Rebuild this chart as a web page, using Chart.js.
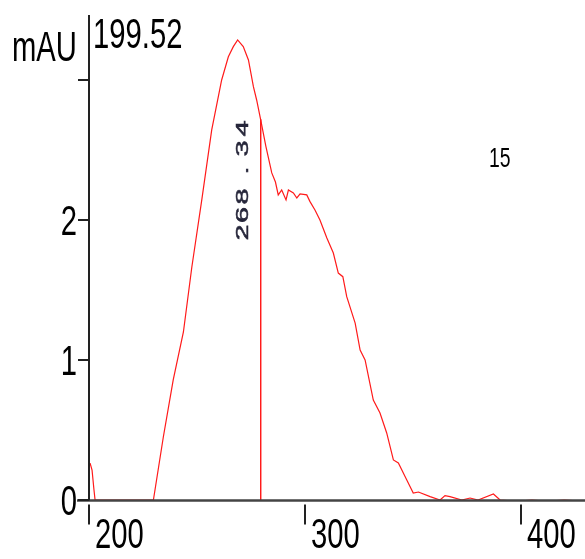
<!DOCTYPE html>
<html>
<head>
<meta charset="utf-8">
<script src="https://cdn.jsdelivr.net/npm/chart.js"></script>
<style>
  body { margin: 0; background: #fff; }
  #wrap { width: 585px; height: 559px; }
</style>
</head>
<body>
<div id="wrap"><canvas id="spectrum" width="585" height="559"></canvas></div>
<script>
// spectrum data (nm, mAU)
const wavelengths = [200.5, 201.4, 202.3, 202.8, 210, 220, 229.8, 234.4, 239.0, 243.7, 247.6, 252.2, 256.8, 261.4, 264.5, 266.8, 268.8, 271.4, 273.8, 276.1, 277.6, 279.5, 281.9, 284.6, 286.3, 287.6, 289.2, 291.2, 292.3, 294.6, 296.2, 297.7, 300.8, 302.3, 304.6, 306.9, 310.1, 313.1, 315.4, 317.5, 319.3, 323.2, 325.5, 327.8, 331.6, 334.7, 337.8, 340.9, 343.2, 347.1, 350.1, 352.5, 357.9, 362.5, 364.8, 367.1, 372.6, 376.4, 380.1, 387.2, 390.3, 398, 405, 412, 420, 429];
const absorbance = [0.264, 0.214, 0.071, 0, 0, 0, 0, 0.45, 0.86, 1.2, 1.664, 2.143, 2.643, 3.0, 3.166, 3.238, 3.286, 3.238, 3.143, 2.952, 2.857, 2.714, 2.524, 2.336, 2.271, 2.179, 2.214, 2.143, 2.214, 2.193, 2.157, 2.186, 2.179, 2.131, 2.071, 2.0, 1.871, 1.764, 1.621, 1.595, 1.452, 1.264, 1.071, 1.0, 0.714, 0.621, 0.479, 0.286, 0.264, 0.143, 0.05, 0.057, 0.024, 0, 0.031, 0.024, 0, 0.014, 0, 0.043, 0, -0.01, 0, -0.01, 0, -0.01];

const xTicks = [200, 300, 400];
const yTicks = [0, 1, 2, 3];
const yTickLabels = ["0", "1", "2", ""];

const markerX = 279.5;
const markerTop = 2.72;
const markerLabel = "268.34";
const unitLabel = "mAU";
const maxLabel = "199.52";
const sideLabel = "15";

function squeezedText(ctx, txt, x, y, align, sx) {
  ctx.save();
  ctx.translate(x, y);
  ctx.scale(sx, 1);
  ctx.textAlign = align;
  ctx.fillText(txt, 0, 0);
  ctx.restore();
}

// axes + labels drawn from the chart's scales
const axesPlugin = {
  id: "axes",
  afterDatasetsDraw(chart) {
    const ctx = chart.ctx;
    const xs = chart.scales.x;
    const ys = chart.scales.y;
    const x0 = Math.round(xs.getPixelForValue(200));
    const y0 = Math.round(ys.getPixelForValue(0)) + 0.5;

    ctx.save();
    ctx.lineWidth = 2.5;
    ctx.strokeStyle = "#444";
    ctx.beginPath();
    ctx.moveTo(77, y0);
    ctx.lineTo(585, y0);
    ctx.stroke();

    ctx.lineWidth = 2;
    ctx.strokeStyle = "#222";
    ctx.beginPath();
    ctx.moveTo(x0, 15);
    ctx.lineTo(x0, y0);
    ctx.stroke();

    yTicks.forEach(v => {
      const py = Math.round(ys.getPixelForValue(v));
      ctx.beginPath();
      ctx.moveTo(x0 - 11, py);
      ctx.lineTo(x0, py);
      ctx.stroke();
    });
    xTicks.forEach(v => {
      const px = Math.round(xs.getPixelForValue(v));
      ctx.beginPath();
      ctx.moveTo(px, y0 + 4);
      ctx.lineTo(px, y0 + 24);
      ctx.stroke();
    });

    ctx.fillStyle = "#000";
    ctx.font = "43px 'Liberation Sans', Arial, sans-serif";
    ctx.textBaseline = "alphabetic";
    yTicks.forEach((v, i) => {
      const py = ys.getPixelForValue(v);
      squeezedText(ctx, yTickLabels[i], 77, py + 15, "right", 0.68);
    });
    xTicks.forEach(v => {
      const px = xs.getPixelForValue(v);
      squeezedText(ctx, String(v), px + 6, 548, "left", 0.68);
    });
    squeezedText(ctx, unitLabel, 12, 61, "left", 0.68);
    squeezedText(ctx, maxLabel, 93, 48, "left", 0.68);

    ctx.font = "27px 'Liberation Sans', Arial, sans-serif";
    squeezedText(ctx, sideLabel, 489, 167, "left", 0.72);

    // vertical marker label, wide spaced digits
    ctx.fillStyle = "#26263a";
    ctx.strokeStyle = "#26263a";
    ctx.lineWidth = 0.5;
    ctx.font = "17px 'Liberation Sans', Arial, sans-serif";
    ctx.textAlign = "center";
    ctx.textBaseline = "middle";
    const lx = 243;
    const centers = [232.5, 215, 196.5, 170.5, 148.5, 128.5];
    for (let i = 0; i < markerLabel.length; i++) {
      ctx.save();
      ctx.translate(lx, centers[i]);
      ctx.rotate(-Math.PI / 2);
      ctx.scale(1.7, 1);
      ctx.fillText(markerLabel[i], 0, 0);
      ctx.strokeText(markerLabel[i], 0, 0);
      ctx.restore();
    }
    ctx.restore();
  }
};

new Chart(document.getElementById("spectrum"), {
  type: "scatter",
  data: {
    datasets: [
      {
        data: wavelengths.map((w, i) => ({ x: w, y: absorbance[i] })),
        showLine: true,
        borderColor: "#ff1a1a",
        borderWidth: 1.2,
        pointRadius: 0,
        tension: 0
      },
      {
        data: [{ x: markerX, y: 0 }, { x: markerX, y: markerTop }],
        showLine: true,
        borderColor: "#ff0000",
        borderWidth: 1.3,
        pointRadius: 0
      }
    ]
  },
  options: {
    responsive: false,
    animation: false,
    devicePixelRatio: 1,
    layout: { padding: { left: 78, top: 15, right: 0, bottom: 59 } },
    plugins: { legend: { display: false }, tooltip: { enabled: false } },
    scales: {
      x: { type: "linear", min: 194.9, max: 429.6, display: false },
      y: { min: 0, max: 3.464, display: false }
    }
  },
  plugins: [axesPlugin]
});
</script>
</body>
</html>
